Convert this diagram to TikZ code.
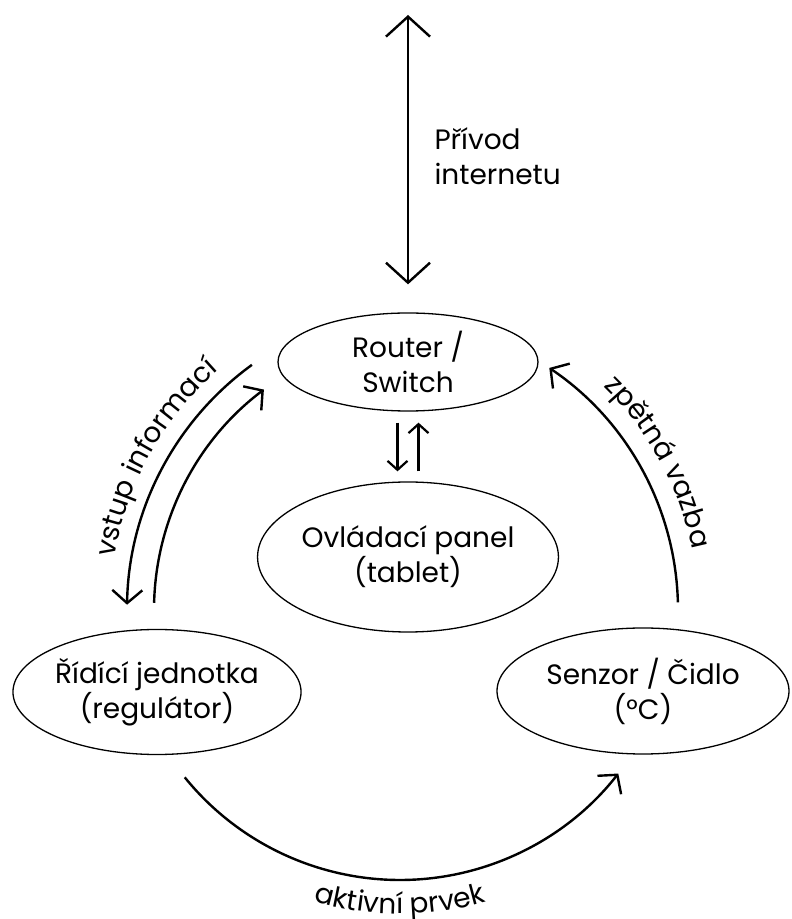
\documentclass[tikz,border=0pt]{standalone}
\usepackage{fontspec}
\setmainfont{Poppins}
\usetikzlibrary{arrows.meta, shapes.geometric, calc, decorations.text}

\begin{document}
\begin{tikzpicture}[x=1pt, y=1pt,
  txt/.style={font=\fontsize{28}{35}\selectfont, align=center},
  blob/.style={draw, ellipse, line width=1.3pt, inner sep=0pt, txt},
  flow/.style={line width=2.4pt, -{Straight Barb[length=13pt, width=30pt]}},
  big/.style={line width=2.4pt, {Straight Barb[length=20pt, width=44pt]}-{Straight Barb[length=20pt, width=44pt]}},
  pair/.style={line width=2.2pt, -{Straight Barb[length=9pt, width=20pt]}},
  arclabel/.style={decorate, decoration={text along path, text align=center,
      text={|\fontsize{28}{30}\selectfont|#1}}}
]
\useasboundingbox (0,0) rectangle (792,919);

% devices
\node[blob, minimum width=260pt, minimum height=98pt]  (router) at (408,557) {Router /\\Switch};
\node[blob, minimum width=274pt, minimum height=150pt] (tablet) at (408,362) {Ovládací panel\\(tablet)};
\node[blob, minimum width=288pt, minimum height=125pt] (ctrl)   at (157,227) {Řídící jednotka\\(regulátor)};
\node[blob, minimum width=292pt, minimum height=126pt] (sensor) at (643,228) {Senzor / Čidlo\\(°C)};

% internet uplink
\coordinate (net) at (408,904);
\draw[big, shorten <=28pt] (router.north) -- (net);
\node[txt, align=left, anchor=west] (netlabel) at (431,763) {Přívod\\internetu};

% router <-> tablet
\draw[pair, shorten <=11pt, shorten >=10pt] ([xshift=-10.5pt]router.south) -- ([xshift=-10.5pt]tablet.north);
\draw[pair, shorten <=10pt, shorten >=11pt] ([xshift=10.5pt]tablet.north) -- ([xshift=10.5pt]router.south);

% centres of the circular flows
\coordinate (cL) at (430,309);
\coordinate (cR) at (386,309);
\coordinate (cB) at (400,316);

\draw[flow] ($(cL)+(126:303)$) arc[start angle=126, end angle=179, radius=303];
\draw[flow] ($(cL)+(178.5:276)$) arc[start angle=178.5, end angle=127, radius=276];
\draw[flow] ($(cR)+(1.5:292)$) arc[start angle=1.5, end angle=56, radius=292];
\draw[flow] ($(cB)+(219:277)$) arc[start angle=219, end angle=322, radius=277];

% curved labels
\path[arclabel=vstup informací] ($(cL)+(173:320)$) arc[start angle=173, end angle=129, radius=320];
\path[arclabel=zpětná vazba] ($(cR)+(48:312)$) arc[start angle=48, end angle=9, radius=312];
\path[arclabel=aktivní prvek] ($(cB)+(249:311)$) arc[start angle=249, end angle=291, radius=311];
\end{tikzpicture}
\end{document}
